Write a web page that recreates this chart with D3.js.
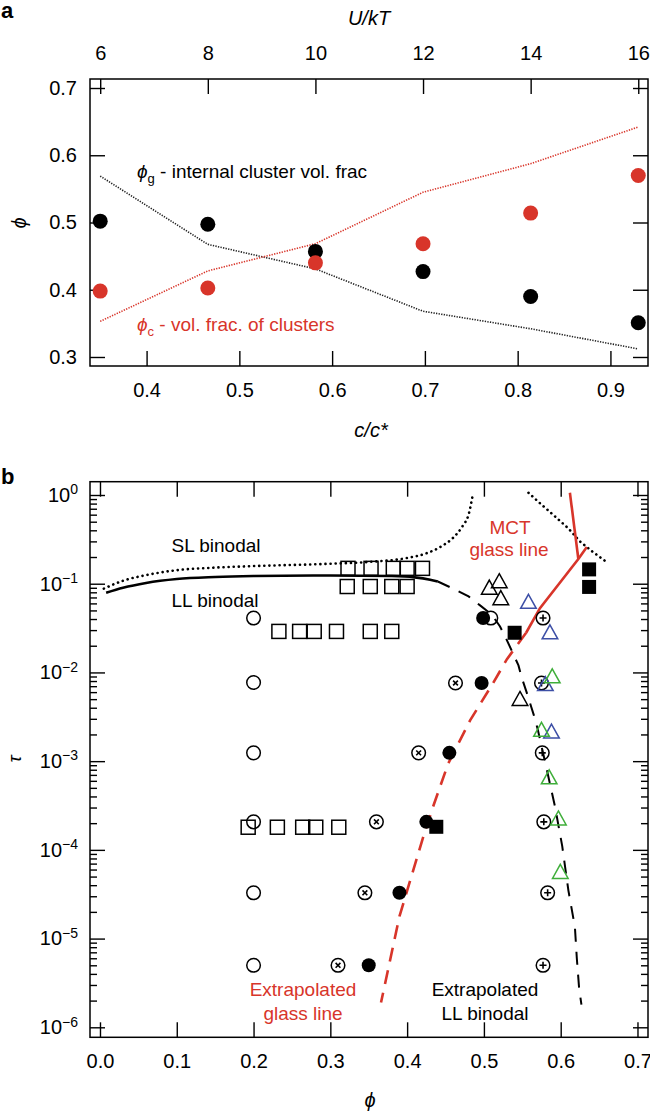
<!DOCTYPE html>
<html><head><meta charset="utf-8">
<script src="https://cdn.jsdelivr.net/npm/d3@7"></script>
<style>
body{margin:0;background:#fff;}
svg{display:block;font-family:"Liberation Sans",Arial,Helvetica,sans-serif;}
</style>
</head><body>
<svg id="c" width="650" height="1111"></svg>
<script>
// ---------------- Panel a data ----------------
const cOverCstar = [0.35, 0.466, 0.582, 0.698, 0.814, 0.93];
const uOverKT = [6, 8, 10, 12, 14, 16];
const phiGPoints = [0.502, 0.4975, 0.457, 0.427, 0.390, 0.351];
const phiCPoints = [0.398, 0.4025, 0.440, 0.4685, 0.514, 0.570];
const phiGLine = [0.569, 0.4675, 0.431, 0.368, 0.342, 0.312];
const phiCLine = [0.353, 0.428, 0.4685, 0.545, 0.5875, 0.642];
const aXTicks = [0.4, 0.5, 0.6, 0.7, 0.8, 0.9];
const aYTicks = [0.3, 0.4, 0.5, 0.6, 0.7];
const aTopTicks = [6, 8, 10, 12, 14, 16];

// ---------------- Panel b data ([phi, tau]) ----------------
const openCircles = [[0.2,0.041],[0.2,0.0077],[0.2,0.00124],[0.2,2.07e-4],[0.2,3.28e-5],[0.2,5.0e-6],[0.509,0.041]];
const crossCircles = [[0.463,0.0076],[0.415,0.00124],[0.36,2.07e-4],[0.345,3.28e-5],[0.31,5.0e-6]];
const filledCircles = [[0.499,0.041],[0.497,0.0076],[0.455,0.00124],[0.425,2.07e-4],[0.39,3.28e-5],[0.35,5.0e-6]];
const plusCircles = [[0.577,0.041],[0.575,0.0076],[0.576,0.00124],[0.578,2.07e-4],[0.583,3.28e-5],[0.577,5.0e-6]];
const openSquares = [
  [0.323,0.149],[0.353,0.149],[0.382,0.149],[0.40,0.149],[0.42,0.149],
  [0.322,0.093],[0.352,0.093],[0.38,0.093],[0.40,0.093],
  [0.233,0.029],[0.26,0.029],[0.279,0.029],[0.308,0.029],[0.352,0.029],[0.38,0.029],
  [0.193,1.8e-4],[0.231,1.8e-4],[0.264,1.8e-4],[0.281,1.8e-4],[0.311,1.8e-4]
];
const filledSquares = [[0.637,0.145],[0.637,0.092],[0.54,0.028],[0.438,1.82e-4]];
const blackTriangles = [[0.52,0.104],[0.507,0.088],[0.522,0.067],[0.547,0.0049]];
const blueTriangles = [[0.558,0.061],[0.586,0.0276],[0.58,0.0072],[0.588,0.0021]];
const greenTriangles = [[0.589,0.0088],[0.575,0.0022],[0.585,6.4e-4],[0.597,2.2e-4],[0.5995,5.5e-5]];

const slLeft = [[0.005,0.088],[0.03,0.108],[0.06,0.125],[0.1,0.142],[0.15,0.152],[0.2,0.158],[0.3,0.168],[0.35,0.176],[0.40,0.195],[0.425,0.22],[0.445,0.265],[0.46,0.33],[0.4725,0.45],[0.48,0.6],[0.486,1.06]];
const slRight = [[0.558,1.06],[0.575,0.78],[0.59,0.6],[0.61,0.42],[0.625,0.3],[0.64,0.235],[0.658,0.18]];
const llSolid = [[0.008,0.079],[0.03,0.09],[0.06,0.102],[0.1,0.113],[0.15,0.119],[0.2,0.122],[0.3,0.124],[0.38,0.122],[0.41,0.118],[0.43,0.111],[0.44,0.106]];
const llDashed = [[0.44,0.106],[0.46,0.088],[0.48,0.072],[0.495,0.057],[0.51,0.045],[0.521,0.033],[0.53,0.023],[0.537,0.017],[0.545,0.012],[0.549,0.0089],[0.557,0.0055],[0.565,0.0033],[0.57,0.0023],[0.581,8.7e-4],[0.5925,3.1e-4],[0.602,1.1e-4],[0.61,3.5e-5],[0.6185,1.35e-5],[0.621,6e-6],[0.624,2.75e-6],[0.627,1.8e-6]];
const mctTop = [[0.612,1.06],[0.623,0.19]];
const mctDiag = [[0.555,0.028],[0.573,0.053],[0.623,0.19],[0.634,0.26]];
const glassDashed = [[0.555,0.028],[0.53,0.0141],[0.512,0.0076],[0.482,0.00288],[0.4535,9.4e-4],[0.434,3.1e-4],[0.421,1.4e-4],[0.39,1.78e-5],[0.366,1.9e-6]];
const bXTicks = [0.0,0.1,0.2,0.3,0.4,0.5,0.6,0.7];
const bYTicks = [1,1e-1,1e-2,1e-3,1e-4,1e-5,1e-6];

// ---------------- styles ----------------
const RED = "#d8352a", BLUE = "#3d4fa6", GREEN = "#3fae3a";
const svg = d3.select("#c");
const FONT = 20;

// ================= Panel a =================
const xA = d3.scaleLinear().domain([0.339, 0.9405]).range([90, 648]);
const yA = d3.scaleLinear().domain([0.2866, 0.7134]).range([366, 79]);
const xU = d3.scaleLinear().domain([6, 16]).range([xA(0.35), xA(0.93)]);

const gA = svg.append("g");
function styleAxis(g, size){
  g.select(".domain").remove();
  g.selectAll(".tick line").attr("stroke","#000").attr("stroke-width",1.4);
  g.selectAll(".tick text").attr("font-size",size).attr("fill","#000").attr("font-family","Liberation Sans, Arial, sans-serif");
}
gA.append("g").attr("transform","translate(90,0)")
  .call(d3.axisLeft(yA).tickValues(aYTicks).tickSize(-15).tickPadding(13).tickFormat(d3.format(".1f")))
  .call(g=>styleAxis(g,FONT));
gA.append("g").attr("transform","translate(648,0)")
  .call(d3.axisRight(yA).tickValues(aYTicks).tickSize(-15).tickFormat(""))
  .call(g=>styleAxis(g,FONT));
gA.append("g").attr("transform","translate(0,366)")
  .call(d3.axisBottom(xA).tickValues(aXTicks).tickSize(-15).tickPadding(17).tickFormat(d3.format(".1f")))
  .call(g=>styleAxis(g,FONT));
gA.append("g").attr("transform","translate(0,79)")
  .call(d3.axisTop(xU).tickValues(aTopTicks).tickSize(-15).tickPadding(19).tickFormat(d3.format("d")))
  .call(g=>styleAxis(g,FONT));
gA.append("rect").attr("x",90).attr("y",79).attr("width",558).attr("height",287)
  .attr("fill","none").attr("stroke","#000").attr("stroke-width",1.5);

const lineA = d3.line().x((d,i)=>xA(cOverCstar[i])).y(d=>yA(d));
gA.append("path").attr("d",lineA(phiGLine)).attr("fill","none").attr("stroke","#222")
  .attr("stroke-width",1.6).attr("stroke-dasharray","1.3,1.3");
gA.append("path").attr("d",lineA(phiCLine)).attr("fill","none").attr("stroke",RED)
  .attr("stroke-width",1.6).attr("stroke-dasharray","1.3,1.3");
gA.selectAll(".pg").data(phiGPoints).join("circle")
  .attr("cx",(d,i)=>xA(cOverCstar[i])).attr("cy",d=>yA(d)).attr("r",7.5).attr("fill","#000");
gA.selectAll(".pc").data(phiCPoints).join("circle")
  .attr("cx",(d,i)=>xA(cOverCstar[i])).attr("cy",d=>yA(d)).attr("r",7.5).attr("fill",RED);

// annotations panel a
const tg = gA.append("text").attr("x",137).attr("y",178).attr("font-size",19).attr("fill","#000");
tg.append("tspan").attr("font-style","italic").text("ϕ");
tg.append("tspan").attr("font-size",13).attr("dy",5).text("g");
tg.append("tspan").attr("dy",-5).text(" - internal cluster vol. frac");
const tc = gA.append("text").attr("x",137).attr("y",331).attr("font-size",19).attr("fill",RED);
tc.append("tspan").attr("font-style","italic").text("ϕ");
tc.append("tspan").attr("font-size",13).attr("dy",5).text("c");
tc.append("tspan").attr("dy",-5).text(" - vol. frac. of clusters");

gA.append("text").attr("x",369).attr("y",25).attr("text-anchor","middle").attr("font-size",20)
  .attr("font-style","italic").text("U/kT");
gA.append("text").attr("x",371).attr("y",437).attr("text-anchor","middle").attr("font-size",20)
  .attr("font-style","italic").text("c/c*");
gA.append("text").attr("transform","translate(26,223) rotate(-90)").attr("text-anchor","middle")
  .attr("font-size",20).attr("font-style","italic").text("ϕ");
svg.append("text").attr("x",1).attr("y",18).attr("font-size",22).attr("font-weight","bold").text("a");

// ================= Panel b =================
const xB = d3.scaleLinear().domain([-0.013, 0.7137]).range([90, 648]);
const yB = d3.scaleLog().domain([Math.pow(10,-6.1127), Math.pow(10,0.1499)]).range([1037.3, 481.7]);
const gB = svg.append("g");

const minorB = [];
for (let e = -6; e < 0; e++) for (let k = 2; k <= 9; k++) minorB.push(k*Math.pow(10,e));

function supLabels(g){
  g.selectAll(".tick text").each(function(d){
    const e = Math.round(Math.log10(d));
    const t = d3.select(this);
    t.text("10");
    t.append("tspan").attr("dy","-0.55em").attr("font-size",14).text(e===0 ? "0" : "\u2212"+(-e));
  });
}
gB.append("g").attr("transform","translate(90,0)")
  .call(d3.axisLeft(yB).tickValues(bYTicks).tickSize(-15).tickPadding(12).tickFormat(()=>"10"))
  .call(g=>styleAxis(g,FONT)).call(supLabels);
gB.append("g").attr("transform","translate(90,0)")
  .call(d3.axisLeft(yB).tickValues(minorB).tickSize(-7).tickFormat(""))
  .call(g=>styleAxis(g,FONT));
gB.append("g").attr("transform","translate(648,0)")
  .call(d3.axisRight(yB).tickValues(bYTicks).tickSize(-15).tickFormat(""))
  .call(g=>styleAxis(g,FONT));
gB.append("g").attr("transform","translate(648,0)")
  .call(d3.axisRight(yB).tickValues(minorB).tickSize(-7).tickFormat(""))
  .call(g=>styleAxis(g,FONT));
gB.append("g").attr("transform","translate(0,1037.3)")
  .call(d3.axisBottom(xB).tickValues(bXTicks).tickSize(-15).tickPadding(17).tickFormat(d3.format(".1f")))
  .call(g=>styleAxis(g,FONT));
gB.append("g").attr("transform","translate(0,481.7)")
  .call(d3.axisTop(xB).tickValues(bXTicks).tickSize(-15).tickFormat(""))
  .call(g=>styleAxis(g,FONT));
gB.append("rect").attr("x",90).attr("y",481.7).attr("width",558).attr("height",555.6)
  .attr("fill","none").attr("stroke","#000").attr("stroke-width",1.5);

const lineB = d3.line().x(d=>xB(d[0])).y(d=>yB(d[1])).curve(d3.curveMonotoneX);
const lineBL = d3.line().x(d=>xB(d[0])).y(d=>yB(d[1]));
gB.append("path").attr("d",lineB(slLeft)).attr("fill","none").attr("stroke","#000")
  .attr("stroke-width",2.6).attr("stroke-linecap","round").attr("stroke-dasharray","0.1,5");
gB.append("path").attr("d",lineBL(slRight)).attr("fill","none").attr("stroke","#000")
  .attr("stroke-width",2.6).attr("stroke-linecap","round").attr("stroke-dasharray","0.1,5");
gB.append("path").attr("d",lineB(llSolid)).attr("fill","none").attr("stroke","#000").attr("stroke-width",2.6);
gB.append("path").attr("d",lineBL(llDashed)).attr("fill","none").attr("stroke","#000")
  .attr("stroke-width",2).attr("stroke-dasharray","13,10");
gB.append("path").attr("d",lineBL(glassDashed)).attr("fill","none").attr("stroke",RED)
  .attr("stroke-width",2.6).attr("stroke-dasharray","14,9");
gB.append("path").attr("d",lineBL(mctTop)).attr("fill","none").attr("stroke",RED).attr("stroke-width",2.6);
gB.append("path").attr("d",lineBL(mctDiag)).attr("fill","none").attr("stroke",RED).attr("stroke-width",2.6);

// markers
const tri = "M0,-8.5L7.8,5.5L-7.8,5.5Z";
function px(d){ return xB(d[0]); } function py(d){ return yB(d[1]); }
gB.selectAll(".os").data(openSquares).join("rect")
  .attr("x",d=>px(d)-7).attr("y",d=>py(d)-7).attr("width",14).attr("height",14)
  .attr("fill","none").attr("stroke","#000").attr("stroke-width",1.5);
gB.selectAll(".oc").data(openCircles).join("circle")
  .attr("cx",px).attr("cy",py).attr("r",6.8).attr("fill","none").attr("stroke","#000").attr("stroke-width",1.5);
const cc = gB.selectAll(".cc").data(crossCircles).join("g").attr("transform",d=>`translate(${px(d)},${py(d)})`);
cc.append("circle").attr("r",6.8).attr("fill","none").attr("stroke","#000").attr("stroke-width",1.5);
cc.append("path").attr("d","M-2.4,-2.4L2.4,2.4M-2.4,2.4L2.4,-2.4").attr("stroke","#000").attr("stroke-width",1.6);
const pc = gB.selectAll(".pc").data(plusCircles).join("g").attr("transform",d=>`translate(${px(d)},${py(d)})`);
pc.append("circle").attr("r",6.8).attr("fill","none").attr("stroke","#000").attr("stroke-width",1.5);
pc.append("path").attr("d","M-3.5,0L3.5,0M0,-3.5L0,3.5").attr("stroke","#000").attr("stroke-width",1.6);
gB.selectAll(".fc").data(filledCircles).join("circle")
  .attr("cx",px).attr("cy",py).attr("r",7).attr("fill","#000");
gB.selectAll(".fs").data(filledSquares).join("rect")
  .attr("x",d=>px(d)-7).attr("y",d=>py(d)-7).attr("width",14).attr("height",14).attr("fill","#000");
function triangles(data, color){
  gB.selectAll(null).data(data).join("path").attr("d",tri)
    .attr("transform",d=>`translate(${px(d)},${py(d)})`)
    .attr("fill","none").attr("stroke",color).attr("stroke-width",1.5).attr("stroke-linejoin","miter");
}
triangles(blackTriangles,"#000");
triangles(blueTriangles,BLUE);
triangles(greenTriangles,GREEN);

// annotations panel b
function label(x,y,txt,color){
  gB.append("text").attr("x",x).attr("y",y).attr("text-anchor","middle").attr("font-size",19)
    .attr("fill",color).text(txt);
}
label(216,552,"SL binodal","#000");
label(215,607,"LL binodal","#000");
label(510,534,"MCT",RED);
label(509,556,"glass line",RED);
label(303,996,"Extrapolated",RED);
label(303,1020,"glass line",RED);
label(485,996,"Extrapolated","#000");
label(485,1020,"LL binodal","#000");

gB.append("text").attr("x",370).attr("y",1107).attr("text-anchor","middle").attr("font-size",20)
  .attr("font-style","italic").text("ϕ");
gB.append("text").attr("transform","translate(21,759) rotate(-90)").attr("text-anchor","middle")
  .attr("font-size",19).attr("font-style","italic").text("τ");
svg.append("text").attr("x",1).attr("y",484).attr("font-size",22).attr("font-weight","bold").text("b");
</script>
</body></html>
